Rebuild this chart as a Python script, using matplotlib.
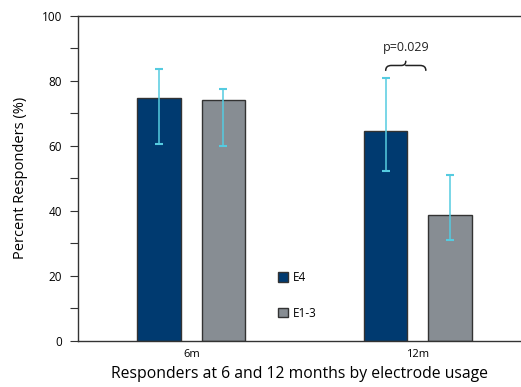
import numpy as np
import matplotlib.pyplot as plt
from matplotlib.path import Path
from matplotlib.patches import PathPatch

plt.rcParams['font.family'] = ['Open Sans', 'DejaVu Sans']

# data
groups = ['6m', '12m']
series = ['E4', 'E1-3']
e4_vals = [74.7, 64.7]
e4_low = [60.5, 52.2]
e4_high = [83.6, 81.0]
e13_vals = [74.0, 38.7]
e13_low = [59.8, 31.2]
e13_high = [77.5, 51.0]
p_text = 'p=0.029'

colors = ['#003a70', '#878d93']
err_color = '#55cbe0'

fig = plt.figure(figsize=(5.21, 3.87), dpi=100)
ax = fig.add_axes([0.1497, 0.1189, 0.8503, 0.8405])

x = np.arange(len(groups))
w = 0.192
off = 0.142

for vals, lo, hi, c, lab, sgn in [(e4_vals, e4_low, e4_high, colors[0], series[0], -1),
                                   (e13_vals, e13_low, e13_high, colors[1], series[1], 1)]:
    vals = np.array(vals)
    ax.bar(x + sgn * off, vals, w, color=c, edgecolor='#333333', linewidth=1.0, label=lab, zorder=2)
    yerr = np.array([vals - np.array(lo), np.array(hi) - vals])
    ax.errorbar(x + sgn * off, vals, yerr=yerr, fmt='none', ecolor=err_color,
                elinewidth=1.1, capsize=2.6, capthick=1.5, zorder=3)

# curly brace above the 12m pair
xa = x[1] - off
xb = x[1] + 0.035
ym = (xa + xb) / 2
y0, y1 = 83.2, 86.0
yb = y1 - 1.3
verts = [(xa, y0), (xa, yb), (xa + 0.025, yb), (ym - 0.02, yb),
         (ym, yb), (ym, y1),
         (ym, yb), (ym + 0.02, yb), (xb - 0.025, yb),
         (xb, yb), (xb, y0)]
codes = [Path.MOVETO, Path.CURVE3, Path.CURVE3, Path.LINETO, Path.CURVE3, Path.CURVE3,
         Path.MOVETO, Path.CURVE3, Path.LINETO, Path.CURVE3, Path.CURVE3]
ax.add_patch(PathPatch(Path(verts, codes), fill=False, edgecolor='#222222', linewidth=1.1,
                       capstyle='round'))
ax.text(ym, 88.2, p_text, ha='center', va='bottom', fontsize=9, color='#222222')

ax.set_xlim(-0.5, 1.455)
ax.set_ylim(0, 100)
ax.set_xticks(x)
ax.set_xticklabels(groups, fontsize=8)
ax.tick_params(axis='x', length=0, pad=6)
ax.set_yticks(np.arange(0, 101, 20))
ax.set_yticks(np.arange(10, 100, 20), minor=True)
ax.tick_params(axis='y', which='both', length=5.5, width=0.8, labelsize=8.5, pad=6, color='#333333')

ax.spines['right'].set_visible(False)
for s in ['left', 'bottom', 'top']:
    ax.spines[s].set_color('#333333')
    ax.spines[s].set_linewidth(1.0)

ax.set_ylabel('Percent Responders (%)', fontsize=10.5, labelpad=10)
ax.set_xlabel('Responders at 6 and 12 months by electrode usage', fontsize=11.3, labelpad=4)

ax.legend(loc='lower left', bbox_to_anchor=(0.428, 0.033), frameon=False, fontsize=8.5,
          handlelength=0.85, handleheight=0.85, labelspacing=1.9, handletextpad=0.4)

fig.savefig('out.png', dpi=100)
